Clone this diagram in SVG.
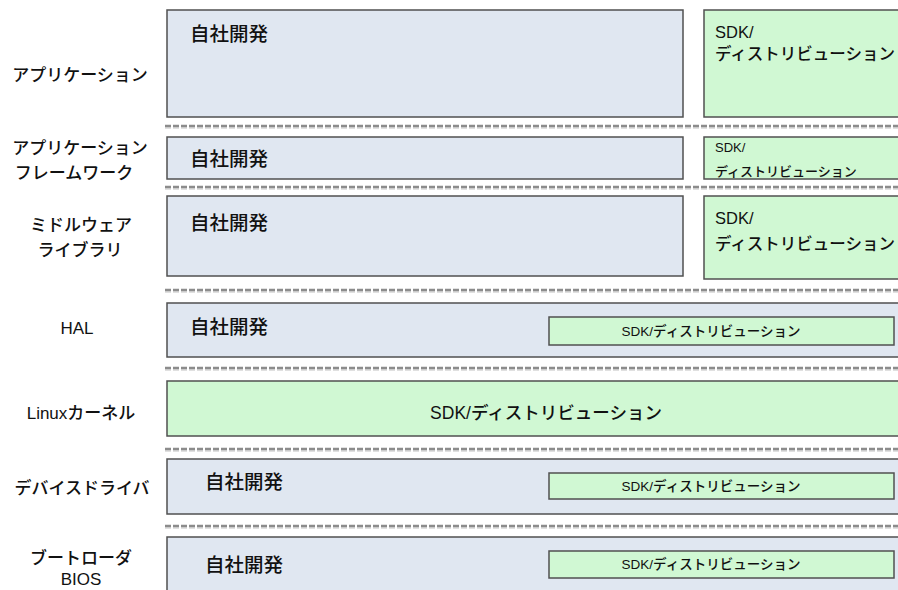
<svg xmlns="http://www.w3.org/2000/svg" width="898" height="590" viewBox="0 0 898 590">
<style>
.own{fill:#e0e7f1;stroke:#505050;stroke-width:1.5}
.sdk{fill:#d0f8d3;stroke:#505050;stroke-width:1.5}
text{font-family:"Liberation Sans","Noto Sans CJK JP",sans-serif;fill:#111;font-weight:500}
.lbl{font-size:17px;text-anchor:middle;dominant-baseline:central}
.own-t{font-size:19.5px;dominant-baseline:central}
.sdk-l{font-size:16.5px}
.sdk-s{font-size:13px}
.sdk-c{font-size:13.5px;text-anchor:middle;dominant-baseline:central}
.sep{stroke:#8c8c8c;stroke-width:2.5;stroke-dasharray:6 2}
.sep2{stroke:#d6d6d6;stroke-width:1.5;stroke-dasharray:6 2}
</style>
<rect width="898" height="590" fill="#fff"/>
<g id="separators">
<g transform="translate(0,126)"><line class="sep2" x1="165" y1="2" x2="898" y2="2"/><line class="sep" x1="165" y1="0" x2="898" y2="0"/></g>
<g transform="translate(0,187)"><line class="sep2" x1="165" y1="2" x2="898" y2="2"/><line class="sep" x1="165" y1="0" x2="898" y2="0"/></g>
<g transform="translate(0,290)"><line class="sep2" x1="165" y1="2" x2="898" y2="2"/><line class="sep" x1="165" y1="0" x2="898" y2="0"/></g>
<g transform="translate(0,368)"><line class="sep2" x1="165" y1="2" x2="898" y2="2"/><line class="sep" x1="165" y1="0" x2="898" y2="0"/></g>
<g transform="translate(0,449)"><line class="sep2" x1="165" y1="2" x2="898" y2="2"/><line class="sep" x1="165" y1="0" x2="898" y2="0"/></g>
<g transform="translate(0,526)"><line class="sep2" x1="165" y1="2" x2="898" y2="2"/><line class="sep" x1="165" y1="0" x2="898" y2="0"/></g>
</g>
<g id="application">
<text class="lbl" x="80" y="75">アプリケーション</text>
<rect class="own" x="167" y="10" width="516" height="107"/>
<text class="own-t" x="190" y="34">自社開発</text>
<rect class="sdk" x="704" y="10" width="210" height="107"/>
<text class="sdk-l" x="715" y="38">SDK/</text>
<text class="sdk-l" x="715" y="60">ディストリビューション</text>
</g>
<g id="framework">
<text class="lbl" x="80" y="148">アプリケーション</text>
<text class="lbl" x="74" y="173">フレームワーク</text>
<rect class="own" x="167" y="137" width="516" height="42"/>
<text class="own-t" x="190" y="159">自社開発</text>
<rect class="sdk" x="704" y="137" width="210" height="42"/>
<text class="sdk-s" x="715" y="152">SDK/</text>
<text class="sdk-s" x="715" y="176">ディストリビューション</text>
</g>
<g id="middleware">
<text class="lbl" x="81" y="225">ミドルウェア</text>
<text class="lbl" x="80" y="250">ライブラリ</text>
<rect class="own" x="167" y="196" width="516" height="80"/>
<text class="own-t" x="190" y="223">自社開発</text>
<rect class="sdk" x="704" y="196" width="210" height="83"/>
<text class="sdk-l" x="715" y="224">SDK/</text>
<text class="sdk-l" x="715" y="250">ディストリビューション</text>
</g>
<g id="hal">
<text class="lbl" x="77" y="328">HAL</text>
<rect class="own" x="167" y="303" width="750" height="54"/>
<text class="own-t" x="190" y="327">自社開発</text>
<rect class="sdk" x="549" y="317" width="345" height="28"/>
<text class="sdk-c" x="711" y="331">SDK/ディストリビューション</text>
</g>
<g id="linux">
<text class="lbl" x="81" y="413">Linuxカーネル</text>
<rect class="sdk" x="167" y="381" width="758" height="55"/>
<text class="sdk-l" x="546" y="413" text-anchor="middle" dominant-baseline="central" style="font-size:17.5px">SDK/ディストリビューション</text>
</g>
<g id="devicedriver">
<text class="lbl" x="82" y="488">デバイスドライバ</text>
<rect class="own" x="167" y="459" width="750" height="55"/>
<text class="own-t" x="205" y="482">自社開発</text>
<rect class="sdk" x="549" y="473" width="345" height="26"/>
<text class="sdk-c" x="711" y="486">SDK/ディストリビューション</text>
</g>
<g id="bootloader">
<text class="lbl" x="81" y="558">ブートローダ</text>
<text class="lbl" x="81" y="579">BIOS</text>
<rect class="own" x="167" y="537" width="750" height="70"/>
<text class="own-t" x="205" y="565">自社開発</text>
<rect class="sdk" x="549" y="551" width="345" height="27"/>
<text class="sdk-c" x="711" y="564.5">SDK/ディストリビューション</text>
</g>
</svg>
